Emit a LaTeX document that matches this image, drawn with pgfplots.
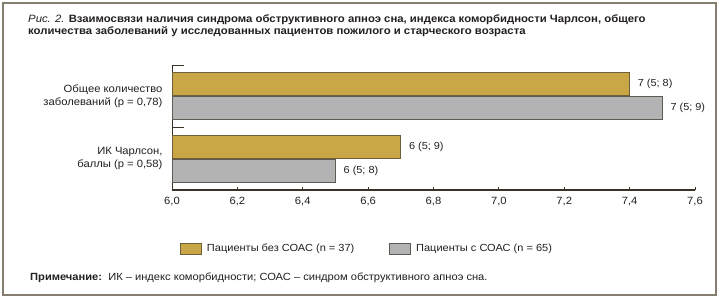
\documentclass[border=0pt]{standalone}
\usepackage{pgfplots}
\usepackage{pgfplotstable}
\pgfplotsset{compat=1.18}
\usepackage{fontspec}
\setmainfont{Liberation Sans}[FakeStretch=1.07]
\definecolor{gold}{HTML}{C9A646}
\definecolor{goldline}{HTML}{6E5E3A}
\definecolor{grayfill}{HTML}{B3B3B3}
\definecolor{grayline}{HTML}{5F5A52}
\definecolor{framec}{HTML}{857D70}
\definecolor{axisc}{HTML}{3A3224}
\definecolor{txt}{HTML}{231F20}
\protected\def\semi{;}
\pgfplotstableread[col sep=comma]{
x,y,label
6.7,0,6 (5\semi{} 9)
7.4,1,7 (5\semi{} 8)
}\without
\pgfplotstableread[col sep=comma]{
x,y,label
6.5,0,6 (5\semi{} 8)
7.5,1,7 (5\semi{} 9)
}\withsoas
\begin{document}
\begin{tikzpicture}
\useasboundingbox (0,0) rectangle (720bp,-300bp);
\fill[white] (0,0) rectangle (720bp,-300bp);
\draw[framec, line width=2bp] (3bp,-3bp) rectangle (716bp,-295bp);
\node[anchor=base west, inner sep=0pt, text=txt, font=\fontsize{10.6bp}{12bp}\selectfont] at (28bp,-22.5bp)
 {\textit{Рис. 2.} \textbf{Взаимосвязи наличия синдрома обструктивного апноэ сна, индекса коморбидности Чарлсон, общего}};
\node[anchor=base west, inner sep=0pt, text=txt, font=\fontsize{10.6bp}{12bp}\selectfont] at (28bp,-34.5bp)
 {\textbf{количества заболеваний у исследованных пациентов пожилого и старческого возраста}};
\begin{axis}[
  at={(172bp,-190bp)}, anchor=south west,
  scale only axis, width=523bp, height=125bp,
  xmin=6, xmax=7.6, ymin=-0.5, ymax=1.5,
  axis x line*=bottom, axis y line*=left,
  x axis line style={-, line width=2bp, color=axisc},
  y axis line style={-, line width=0.8bp, color=axisc},
  xtick={6,6.2,6.4,6.6,6.8,7,7.2,7.4,7.6},
  xticklabel style={text=txt, font=\fontsize{10.5bp}{12bp}\selectfont, yshift=-4bp},
  /pgf/number format/.cd, use comma, fixed, fixed zerofill, precision=1, assume math mode=true,
  /pgfplots/.cd,
  x tick style={axisc, line width=0.8bp},
  major tick length=3bp,
  tick align=inside,
  ytick={0,1},
  yticklabels={{ИК Чарлсон,\\баллы (p = 0,58)},{Общее количество\\заболеваний (p = 0,78)}},
  yticklabel style={align=right, text=txt, font=\fontsize{10.5bp}{13.3bp}\selectfont, xshift=-6bp},
  y tick style={draw=none},
  minor ytick={0.5,1.5},
  minor y tick style={draw=axisc, line width=0.8bp},
  minor tick length=12bp,
  legend columns=2,
  legend style={at={(0.373,-0.468)}, anchor=center, draw=none, fill=none,
    font=\fontsize{10.3bp}{12bp}\selectfont, text=txt,
    /tikz/every odd column/.append style={column sep=3bp},
    /tikz/every even column/.append style={column sep=33bp}},
  legend image code/.code={\draw[#1, line width=0.8bp] (0bp,-5.5bp) rectangle (21bp,5.5bp);},
]
\addplot[xbar, bar width=23bp, bar shift=12bp, fill=gold, draw=goldline, line width=0.8bp,
  point meta=explicit symbolic, nodes near coords,
  nodes near coords style={anchor=west, xshift=4.5bp, yshift=12bp, text=txt, font=\fontsize{10.2bp}{12bp}\selectfont}]
  table[x=x, y=y, meta=label] {\without};
\addplot[xbar, bar width=23bp, bar shift=-12bp, fill=grayfill, draw=grayline, line width=0.8bp,
  point meta=explicit symbolic, nodes near coords,
  nodes near coords style={anchor=west, xshift=4.5bp, yshift=-12bp, text=txt, font=\fontsize{10.2bp}{12bp}\selectfont}]
  table[x=x, y=y, meta=label] {\withsoas};
\legend{Пациенты без СОАС (n = 37), Пациенты с СОАС (n = 65)}
\end{axis}
\node[anchor=base west, inner sep=0pt, text=txt, font=\fontsize{10.4bp}{12bp}\selectfont] at (30bp,-280bp)
 {\textbf{Примечание:}\ \ ИК – индекс коморбидности; СОАС – синдром обструктивного апноэ сна.};
\end{tikzpicture}
\end{document}
